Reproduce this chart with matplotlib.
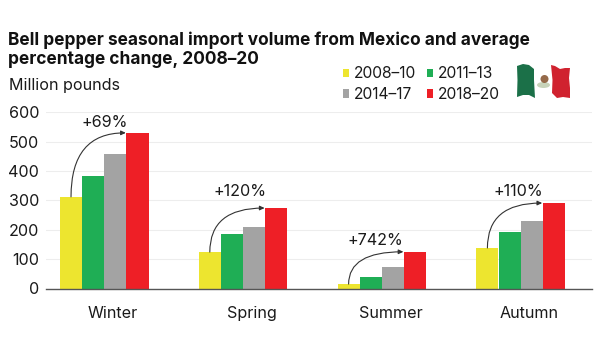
import numpy as np
import matplotlib
matplotlib.use("Agg")
import matplotlib.pyplot as plt
from matplotlib.patches import Polygon, Rectangle, Ellipse

seasons = ["Winter", "Spring", "Summer", "Autumn"]
periods = ["2008–10", "2011–13", "2014–17", "2018–20"]
v_2008 = [312, 124, 15, 138]
v_2011 = [384, 184, 38, 193]
v_2014 = [458, 208, 72, 229]
v_2018 = [530, 274, 125, 291]
changes = ["+69%", "+120%", "+742%", "+110%"]
colors = ["#EDE52F", "#1FAE55", "#A3A3A3", "#EE1F26"]
yticks = [0, 100, 200, 300, 400, 500, 600]
label_dx_px = [0, -3.3, -6.7, -2.5]
label_dy_px = [10.5, 16.3, 11, 11.3]

plt.rcParams["font.family"] = ["Inter", "DejaVu Sans"]
W, H = 600, 350
fig = plt.figure(figsize=(6, 3.5), dpi=100)
L, R, B, T = 46, 592, 288.5, 112.3
ax = fig.add_axes([L / W, 1 - B / H, (R - L) / W, (B - T) / H])
step = 138.8
bw = 22.2 / step
c0 = 104.3
ax.set_xlim((L - c0) / step, (R - c0) / step)
ax.set_ylim(0, 600)

x = np.arange(len(seasons))
series = [v_2008, v_2011, v_2014, v_2018]
for i, (vals, col) in enumerate(zip(series, colors)):
    ax.bar(x + (i - 1.5) * bw, vals, bw, color=col, zorder=3, linewidth=0)

for s in ["top", "right", "left"]:
    ax.spines[s].set_visible(False)
ax.spines["bottom"].set_color("#555555")
ax.spines["bottom"].set_linewidth(1)
ax.spines["bottom"].set_zorder(4)
ax.set_yticks(yticks)
ax.yaxis.grid(True, color="#EDEDED", linewidth=0.8, zorder=0)
ax.set_axisbelow(True)
ax.tick_params(axis="y", length=0, pad=5, labelsize=11.6, labelcolor="#1a1a1a")
ax.set_xticks(x + 8.5 / step)
ax.set_xticklabels(seasons)
ax.tick_params(axis="x", length=0, pad=12.5, labelsize=11.6, labelcolor="#1a1a1a")

for i in range(4):
    start = (x[i] - 1.5 * bw, v_2008[i])
    end = (x[i] + 1.0 * bw - 0.005, v_2018[i])
    ax.annotate("", xy=end, xytext=start, zorder=5,
                arrowprops=dict(arrowstyle="-|>,head_length=0.28,head_width=0.13",
                                color="#333333", lw=0.8, shrinkA=0, shrinkB=0,
                                connectionstyle="angle3,angleA=90,angleB=0"))
    ax.annotate(changes[i], xy=(x[i], v_2018[i]),
                xytext=(label_dx_px[i] * 0.72, label_dy_px[i] * 0.72),
                textcoords="offset points", ha="center", va="center",
                fontsize=11.6, color="#1a1a1a", zorder=6)

def px(xp, yp):
    return xp / W, 1 - yp / H

title_lines = ["Bell pepper seasonal import volume from Mexico and average",
               "percentage change, 2008–20"]
fig.text(*px(8, 45), title_lines[0], fontsize=12.45, fontweight="bold", color="#111111", va="baseline")
fig.text(*px(8, 64), title_lines[1], fontsize=12.45, fontweight="bold", color="#111111", va="baseline")
fig.text(*px(9, 90), "Million pounds", fontsize=11.6, color="#1a1a1a", va="baseline")

leg = [(342.7, 78.5, 0), (426.7, 78.5, 1), (342.7, 99, 2), (426.7, 99, 3)]
for xp, yp, i in leg:
    fig.add_artist(Rectangle(px(xp, yp - 1.5), 6 / W, 8.5 / H, transform=fig.transFigure,
                             facecolor=colors[i], edgecolor="none"))
    fig.text(*px(xp + 11.3, yp), periods[i], fontsize=11.2, color="#1a1a1a", va="baseline")

# Waving Mexican flag
green = [(517, 66), (523, 64), (529, 65), (534, 69), (534, 80), (535, 98),
         (529, 95), (523, 95), (517, 97), (517.5, 80)]
red = [(551, 65), (555, 66), (560, 69), (565, 68), (570, 68), (569, 78), (570, 88),
       (570, 98), (563, 97), (557, 98), (552, 93), (552.5, 80)]
fig.add_artist(Polygon([px(*p) for p in green], closed=True, transform=fig.transFigure,
                       facecolor="#1B7048", edgecolor="none"))
fig.add_artist(Polygon([px(*p) for p in red], closed=True, transform=fig.transFigure,
                       facecolor="#D0222F", edgecolor="none"))
fig.add_artist(Ellipse(px(543.5, 85), 13 / W, 6 / H, transform=fig.transFigure,
                       facecolor="#B9C9A8", edgecolor="none", alpha=0.8))
fig.add_artist(Ellipse(px(544.5, 79), 8 / W, 8 / H, transform=fig.transFigure,
                       facecolor="#8A5A36", edgecolor="none", alpha=0.9))

fig.savefig("out.png", dpi=100)
